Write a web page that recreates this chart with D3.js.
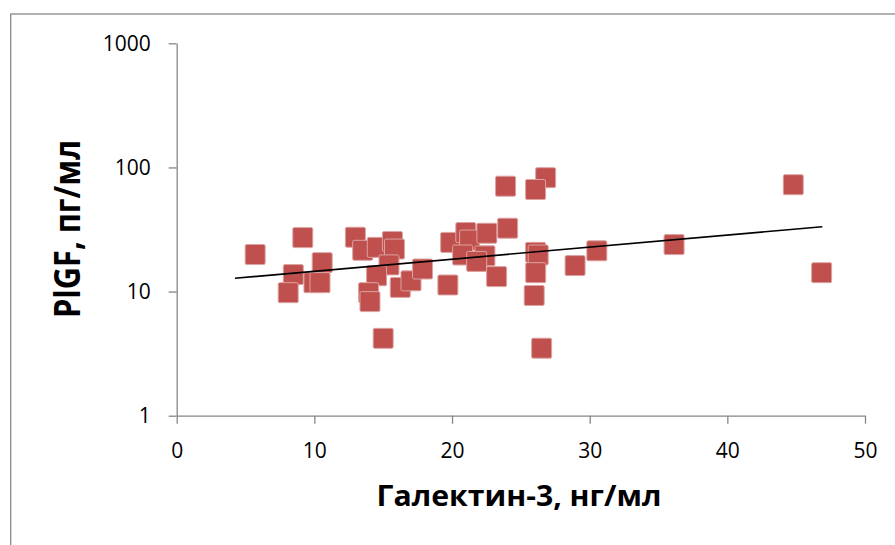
<!DOCTYPE html>
<html>
<head>
<meta charset="utf-8">
<script src="https://cdn.jsdelivr.net/npm/d3@7"></script>
<style>
  body { margin: 0; background: #fff; }
  svg { display: block; font-family: "Open Sans", sans-serif; }
  .axis path, .axis line { stroke: #868686; stroke-width: 1.3; }
  .axis text { font-size: 21px; fill: #000; }
</style>
</head>
<body>
<div id="chart"></div>
<script>
// galectin-3 (ng/ml) and PlGF (pg/ml)
let galectin = [5.70, 9.16, 10.57, 8.47, 8.10, 9.97, 10.41, 12.98, 13.51, 14.57,
  15.67, 15.82, 15.42, 14.52, 13.94, 14.04, 16.24, 17.02, 17.86, 19.70,
  15.00, 19.90, 21.00, 21.28, 22.53, 20.77, 22.39, 21.79, 23.24, 24.04,
  23.89, 26.80, 26.07, 26.07, 26.26, 26.08, 25.97, 26.51, 28.94, 30.52,
  36.13, 44.79, 46.85];
let plgf = [19.9, 27.2, 17.1, 13.7, 9.8, 11.8, 11.8, 27.4, 21.5, 22.7,
  25.3, 22.0, 16.4, 13.4, 9.8, 8.3, 10.8, 12.2, 15.2, 11.3,
  4.2, 24.9, 29.9, 26.0, 29.5, 19.7, 19.4, 17.5, 13.2, 32.4,
  70.6, 82.7, 66.4, 20.7, 19.7, 14.2, 9.3, 3.5, 16.2, 21.3,
  23.9, 72.6, 14.2];

// exponential trendline ends
let trendX = [4.23, 46.9];
let trendY = [12.8, 33.3];

let xTicks = [0, 10, 20, 30, 40, 50];
let yTicks = [1, 10, 100, 1000];

let svgWidth = 895;
let svgHeight = 545;

let svg = d3.select("#chart")
  .append("svg")
  .attr("width", svgWidth)
  .attr("height", svgHeight);

// chart frame (runs off the right and bottom edges)
svg.append("rect")
  .attr("x", 10.7)
  .attr("y", 14)
  .attr("width", 1000)
  .attr("height", 700)
  .attr("fill", "none")
  .attr("stroke", "#888")
  .attr("stroke-width", 1.3);

let xScale = d3.scaleLinear()
  .domain([0, 50])
  .range([176.7, 865]);

let yScale = d3.scaleLog()
  .domain([1, 1000])
  .range([415.7, 43.3]);

svg.append("g")
  .attr("class", "axis")
  .attr("transform", `translate(0, ${yScale(1)})`)
  .call(d3.axisBottom(xScale).tickValues(xTicks).tickSize(8).tickSizeOuter(0).tickPadding(19))
  .call(g => g.selectAll("text").attr("font-family", "Open Sans"));

svg.append("g")
  .attr("class", "axis")
  .attr("transform", `translate(${xScale(0)}, 0)`)
  .call(d3.axisLeft(yScale).tickValues(yTicks).tickFormat(d3.format("d")).tickSize(8).tickSizeOuter(0).tickPadding(18))
  .call(g => g.selectAll("text").attr("font-family", "Open Sans"));

// points
let size = 20;
svg.append("g")
  .selectAll("rect")
  .data(galectin)
  .enter()
  .append("rect")
  .attr("x", (d, i) => xScale(d) - size / 2)
  .attr("y", (d, i) => yScale(plgf[i]) - size / 2)
  .attr("width", size)
  .attr("height", size)
  .attr("rx", 1.5)
  .attr("fill", "#c0504d")
  .attr("stroke", "#dca3a2")
  .attr("stroke-width", 1);

// trendline
svg.append("line")
  .attr("x1", xScale(trendX[0]))
  .attr("y1", yScale(trendY[0]))
  .attr("x2", xScale(trendX[1]))
  .attr("y2", yScale(trendY[1]))
  .attr("stroke", "#000")
  .attr("stroke-width", 1.6);

// axis titles
svg.append("text")
  .attr("x", 519)
  .attr("y", 506)
  .attr("text-anchor", "middle")
  .attr("font-size", "28px")
  .attr("font-weight", "bold")
  .attr("textLength", 285)
  .attr("lengthAdjust", "spacingAndGlyphs")
  .text("Галектин-3, нг/мл");

svg.append("text")
  .attr("transform", "translate(80, 229) rotate(-90)")
  .attr("text-anchor", "middle")
  .attr("font-size", "35px")
  .attr("font-weight", "bold")
  .attr("textLength", 178)
  .attr("lengthAdjust", "spacingAndGlyphs")
  .text("PlGF, пг/мл");
</script>
</body>
</html>
